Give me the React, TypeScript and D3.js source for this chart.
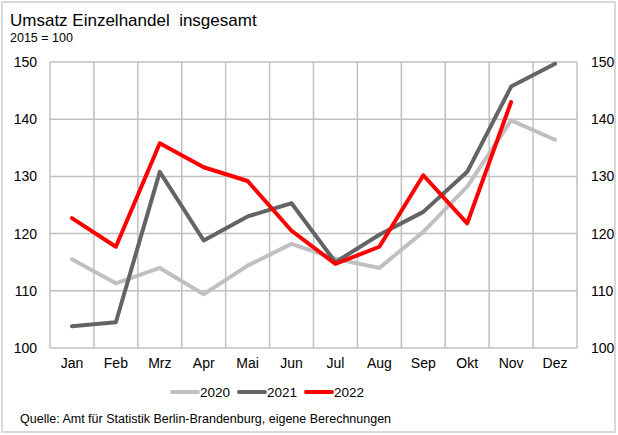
import React from "react";
import * as d3 from "d3";

const months = ["Jan", "Feb", "Mrz", "Apr", "Mai", "Jun", "Jul", "Aug", "Sep", "Okt", "Nov", "Dez"];
const values2020 = [115.5, 111.3, 114.0, 109.4, 114.4, 118.2, 115.6, 114.0, 120.3, 128.2, 139.8, 136.4];
const values2021 = [103.8, 104.5, 130.8, 118.8, 123.0, 125.3, 115.0, 119.8, 123.8, 130.8, 145.7, 149.7];
const values2022 = [122.7, 117.7, 135.8, 131.6, 129.2, 120.5, 114.7, 117.7, 130.2, 121.8, 143.0];
const yTicks = [100, 110, 120, 130, 140, 150];
const seriesNames = ["2020", "2021", "2022"];
const seriesColors = ["#c0c0c0", "#646464", "#ff0000"];

const W = 618;
const H = 435;
const plot = { left: 50, right: 577, top: 62, bottom: 348 };

export default function App() {
  const x = d3.scaleBand<string>().domain(months).range([plot.left, plot.right]).padding(0);
  const y = d3.scaleLinear().domain([100, 150]).range([plot.bottom, plot.top]);
  const cx = (m: string) => (x(m) as number) + x.bandwidth() / 2;
  const line = d3
    .line<number>()
    .x((_, i) => cx(months[i]))
    .y((d) => y(d));
  const series = [values2020, values2021, values2022];
  const font = "'Liberation Sans', Arial, sans-serif";
  const legendX = [172, 239, 306];

  return (
    <svg
      width={W}
      height={H}
      style={{ position: "absolute", left: 0, top: 0, fontFamily: font }}
    >
      <rect x={0} y={0} width={W} height={H} fill="#fff" />
      <rect x={2} y={2} width={613} height={430} fill="none" stroke="#d9d9d9" strokeWidth={2} />
      <text x={10} y={26} fontSize={17} fill="#000" style={{ whiteSpace: "pre" }}>
        {"Umsatz Einzelhandel  insgesamt"}
      </text>
      <text x={10} y={42} fontSize={12.5} fill="#000">2015 = 100</text>

      {/* horizontal gridlines */}
      {yTicks.map((t) => (
        <line key={"h" + t} x1={plot.left} x2={plot.right} y1={y(t)} y2={y(t)} stroke="#c0c0c0" strokeWidth={1.5} />
      ))}
      {/* vertical gridlines */}
      {months.map((m) => (
        <line key={"v" + m} x1={x(m)} x2={x(m)} y1={plot.top} y2={plot.bottom} stroke="#c0c0c0" strokeWidth={1.5} />
      ))}
      <line x1={plot.right} x2={plot.right} y1={plot.top} y2={plot.bottom} stroke="#c0c0c0" strokeWidth={1.5} />

      {/* y labels */}
      {yTicks.map((t) => (
        <text key={"l" + t} x={37} y={y(t) + 5} fontSize={14} textAnchor="end" fill="#000">{t}</text>
      ))}
      {yTicks.map((t) => (
        <text key={"r" + t} x={591} y={y(t) + 5} fontSize={14} textAnchor="start" fill="#000">{t}</text>
      ))}
      {/* x labels */}
      {months.map((m) => (
        <text key={"x" + m} x={cx(m)} y={368} fontSize={14} textAnchor="middle" fill="#000">{m}</text>
      ))}

      {series.map((s, i) => (
        <path key={"s" + i} d={line(s) || ""} fill="none" stroke={seriesColors[i]} strokeWidth={4} strokeLinejoin="round" strokeLinecap="round" />
      ))}

      {/* legend */}
      {seriesNames.map((n, i) => (
        <g key={"lg" + n}>
          <line x1={legendX[i]} x2={legendX[i] + 26} y1={392} y2={392} stroke={seriesColors[i]} strokeWidth={4} strokeLinecap="round" />
          <text x={legendX[i] + 28} y={397} fontSize={13.5} fill="#000">{n}</text>
        </g>
      ))}

      <text x={20} y={423} fontSize={12.5} fill="#000">Quelle: Amt für Statistik Berlin-Brandenburg, eigene Berechnungen</text>
    </svg>
  );
}
